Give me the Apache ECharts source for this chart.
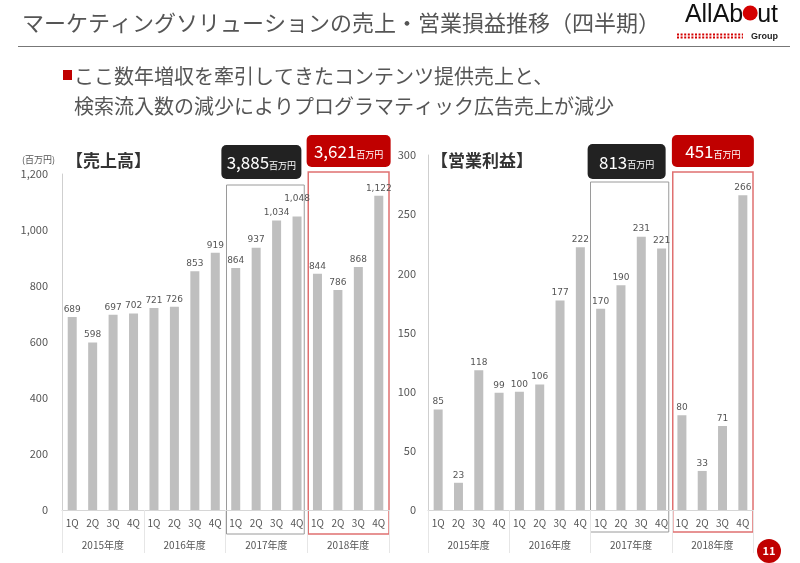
<!DOCTYPE html>
<html><head><meta charset="utf-8">
<script src="https://cdn.jsdelivr.net/npm/echarts@6/dist/echarts.min.js"></script>
<style>html,body{margin:0;padding:0;background:#fff}#c{width:800px;height:563px}</style>
</head><body><div id="c"></div>
<script>
// ---- data ----
const quarters = ['1Q','2Q','3Q','4Q','1Q','2Q','3Q','4Q','1Q','2Q','3Q','4Q','1Q','2Q','3Q','4Q'];
const years = ['2015年度','2016年度','2017年度','2018年度'];
const sales = [689,598,697,702,721,726,853,919,864,937,1034,1048,844,786,868,1122];
const profit = [85,23,118,99,100,106,177,222,170,190,231,221,80,33,71,266];
const salesAxis = {min:0, max:1200, interval:200};
const profitAxis = {min:0, max:300, interval:50};
const salesTotals = ['3,885','3,621'];   // 2017, 2018
const profitTotals = ['813','451'];      // 2017, 2018
const unitLabel = '百万円';

const FONT = '"Noto Sans CJK JP","Noto Sans",sans-serif';
const NUMFONT = '"DejaVu Sans","Noto Sans",sans-serif';
const fmt = v => Number(v).toLocaleString('en-US');

const chart = echarts.init(document.getElementById('c'), null, {renderer:'canvas'});

function xAxes(gi){
  return [
    {gridIndex:gi, type:'category', data:quarters,
     axisLine:{lineStyle:{color:'#d6d6d6'}}, axisTick:{show:false},
     axisLabel:{color:'#555', fontSize:10, margin:8, fontFamily:FONT, interval:0}},
    {gridIndex:gi, type:'category', data:years, position:'bottom',
     axisLine:{show:false},
     axisTick:{show:true, length:43, lineStyle:{color:'#e6e6e6'}},
     axisLabel:{color:'#555', fontSize:10, margin:30, fontFamily:FONT, interval:0}}
  ];
}
function yAxis(gi, ax, margin){
  return {gridIndex:gi, type:'value', min:ax.min, max:ax.max, interval:ax.interval,
    axisLine:{show:true, lineStyle:{color:'#cfcfcf'}}, axisTick:{show:false},
    splitLine:{show:false},
    axisLabel:{color:'#555', fontSize:11, margin:margin, fontFamily:FONT, formatter:fmt}};
}
function barSeries(xi, yi, data, raise){
  return {type:'bar', xAxisIndex:xi, yAxisIndex:yi, barWidth:9,
    data:data.map((v,i)=> raise && raise[i] ? {value:v, label:{offset:[0,-raise[i]]}} : v),
    itemStyle:{color:'#bfbfbf'}, silent:true,
    label:{show:true, position:'top', distance:3, color:'#555', fontSize:9, fontFamily:NUMFONT,
      formatter:p=>fmt(p.value)}};
}

const option = {
  animation:false,
  textStyle:{fontFamily:FONT},
  grid:[
    {left:62, top:174, width:327, height:336},
    {left:428, top:155, width:325, height:355}
  ],
  xAxis:[...xAxes(0), ...xAxes(1)],
  yAxis:[yAxis(0, salesAxis, 14), yAxis(1, profitAxis, 12)],
  series:[barSeries(0,0,sales,{11:10}), barSeries(2,1,profit)]
};
chart.setOption(option);

// ---- annotations computed from axes ----
function bnd(xi, i){
  const c0 = chart.convertToPixel({xAxisIndex:xi}, 0);
  const c1 = chart.convertToPixel({xAxisIndex:xi}, 1);
  const bw = c1 - c0;
  return c0 - bw/2 + i*bw;
}
function badge(cx, y, w, h, fill, num){
  return {type:'group', children:[
    {type:'rect', shape:{x:cx-w/2, y:y, width:w, height:h, r:5}, style:{fill:fill}},
    {type:'text', style:{x:cx, y:y+h/2+1, text:'{a|'+num+'}{b|'+unitLabel+'}', textAlign:'center', textVerticalAlign:'middle',
      rich:{a:{fontSize:17, fill:'#fff', fontFamily:FONT}, b:{fontSize:9, fill:'#fff', fontFamily:FONT, padding:[5,0,0,0]}}}}
  ]};
}
const g = [];
// left chart boxes
{
  const gx0 = bnd(0,8)+1, gx1 = bnd(0,12)-3, rx0 = bnd(0,12)+1, rx1 = bnd(0,16);
  g.push({type:'rect', shape:{x:gx0, y:185, width:gx1-gx0, height:349}, style:{fill:'none', stroke:'#9a9a9a', lineWidth:1}});
  g.push({type:'rect', shape:{x:rx0, y:172, width:rx1-rx0, height:362}, style:{fill:'none', stroke:'#e07070', lineWidth:1.5}});
  g.push(badge((gx0+gx1)/2-4, 145, 80, 34, '#222', salesTotals[0]));
  g.push(badge((rx0+rx1)/2, 135, 84, 32, '#c00000', salesTotals[1]));
}
// right chart boxes
{
  const gx0 = bnd(2,8), gx1 = bnd(2,12)-3, rx0 = bnd(2,12)+1, rx1 = bnd(2,16);
  g.push({type:'rect', shape:{x:gx0, y:182, width:gx1-gx0, height:350}, style:{fill:'none', stroke:'#9a9a9a', lineWidth:1}});
  g.push({type:'rect', shape:{x:rx0, y:172, width:rx1-rx0, height:360}, style:{fill:'none', stroke:'#e07070', lineWidth:1.5}});
  g.push(badge((gx0+gx1)/2-3, 144, 78, 35, '#222', profitTotals[0]));
  g.push(badge((rx0+rx1)/2, 135, 82, 32, '#c00000', profitTotals[1]));
}
// page title + rule
g.push({type:'text', style:{x:22, y:23, text:'マーケティングソリューションの売上・営業損益推移（四半期）', fill:'#555', font:'22px '+FONT, textVerticalAlign:'middle'}});
g.push({type:'line', shape:{x1:18, y1:46.5, x2:790, y2:46.5}, style:{stroke:'#777', lineWidth:1.2}});
// subtitle
g.push({type:'rect', shape:{x:63, y:70, width:9, height:10}, style:{fill:'#c00000'}});
g.push({type:'text', style:{x:74, y:76, text:'ここ数年増収を牽引してきたコンテンツ提供売上と、', fill:'#555', font:'20px '+FONT, textVerticalAlign:'middle'}});
g.push({type:'text', style:{x:74, y:106, text:'検索流入数の減少によりプログラマティック広告売上が減少', fill:'#555', font:'20px '+FONT, textVerticalAlign:'middle'}});
// chart titles
g.push({type:'text', style:{x:22, y:160, text:'(百万円)', fill:'#555', font:'9px '+FONT, textVerticalAlign:'middle'}});
g.push({type:'text', style:{x:66, y:161, text:'【売上高】', fill:'#333', font:'bold 17px '+FONT, textVerticalAlign:'middle'}});
g.push({type:'text', style:{x:431, y:161, text:'【営業利益】', fill:'#333', font:'bold 17px '+FONT, textVerticalAlign:'middle'}});
// logo
{
  const lf = '25px "Liberation Sans",Arial,sans-serif';
  const cv = document.createElement('canvas').getContext('2d'); cv.font = lf;
  const w1 = cv.measureText('AllAb').width, wo = cv.measureText('o').width, wt = cv.measureText('AllAbout').width;
  const lx = 778 - wt;
  g.push({type:'text', style:{x:lx, y:15, text:'AllAb', fill:'#111', font:lf, textVerticalAlign:'middle'}});
  g.push({type:'circle', shape:{cx:lx+w1+wo/2, cy:13, r:7.5}, style:{fill:'#d40000'}});
  g.push({type:'text', style:{x:lx+w1+wo, y:15, text:'ut', fill:'#111', font:lf, textVerticalAlign:'middle'}});
  for (let r=0;r<2;r++){
    g.push({type:'line', shape:{x1:677, y1:34.5+r*3, x2:743, y2:34.5+r*3}, style:{stroke:'#d40000', lineWidth:2, lineDash:[2,1.6]}});
  }
  g.push({type:'text', style:{x:778, y:37, text:'Group', fill:'#222', font:'bold 9px "Liberation Sans",Arial,sans-serif', textAlign:'right', textVerticalAlign:'middle'}});
}
// page number
g.push({type:'circle', shape:{cx:769, cy:551, r:12}, style:{fill:'#c00000'}});
g.push({type:'text', style:{x:769, y:551, text:'11', fill:'#fff', font:'bold 11px '+FONT, textAlign:'center', textVerticalAlign:'middle'}});

chart.setOption({graphic:{elements:g}});
</script></body></html>
